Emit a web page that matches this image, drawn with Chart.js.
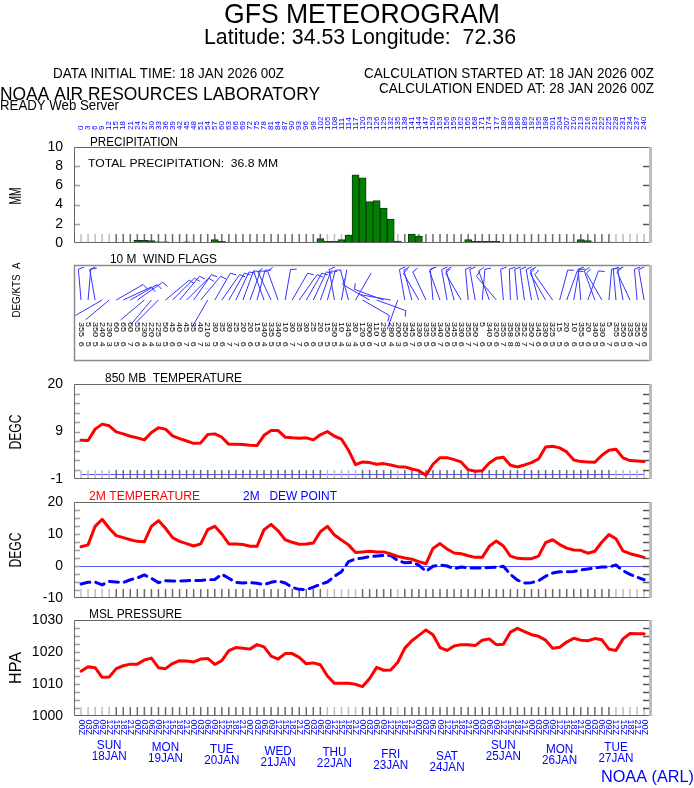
<!DOCTYPE html>
<html>
<head>
<meta charset="utf-8">
<title>GFS Meteorogram</title>
<script src="https://cdn.jsdelivr.net/npm/chart.js@4.4.1/dist/chart.umd.min.js"></script>
<style>
  html, body { margin: 0; padding: 0; background: #fff; }
  #page { position: relative; width: 694px; height: 788px; overflow: hidden; }
  #page canvas { position: absolute; left: 0; top: 0; }
</style>
</head>
<body>
<div id="page">
  <canvas id="precip" width="694" height="788"></canvas>
  <canvas id="wind" width="694" height="788"></canvas>
  <canvas id="t850" width="694" height="788"></canvas>
  <canvas id="t2m" width="694" height="788"></canvas>
  <canvas id="msl" width="694" height="788"></canvas>
</div>
<script>
// forecast hours (every 3 h from 18 JAN 2026 00Z)
const hours = [0,3,6,9,12,15,18,21,24,27, 30,33,36,39,42,45,48,51,54,57,
  60,63,66,69,72,75,78,81,84,87, 90,93,96,99,102,105,108,111,114,117,
  120,123,126,129,132,135,138,141,144,147, 150,153,156,159,162,165,168,171,174,177,
  180,183,186,189,192,195,198,201,204,207, 210,213,216,219,222,225,228,231,234,237, 240];

// 3-hourly precipitation (mm)
const precipMM = [0,0,0,0.05,0.05,0,0,0.03,0.28,0.28,
  0.25,0.12,0.12,0,0,0.12,0,0,0,0.35,
  0.17,0.1,0,0,0,0,0,0,0,0,
  0,0,0,0,0.45,0.17,0.17,0.35,0.83,7.1,
  6.8,4.31,4.41,3.65,2.5,0.2,0,0.94,0.73,0,
  0,0,0,0,0.1,0.35,0.17,0.17,0.17,0.17,
  0,0,0,0,0,0,0,0.07,0,0.1,
  0.1,0.35,0.25,0.1,0.1,0.1,0,0,0,0,
  0];

// 10 m wind: direction (deg) and speed (kts)
const windDir = [355,5,350,240,230,60,65,60,55,230,
  220,225,50,45,40,45,35,40,210,30,
  35,30,25,20,20,15,340,335,340,10,
  30,35,30,25,20,15,350,10,345,30,
  120,300,110,290,280,200,350,345,330,335,
  355,340,350,345,330,355,350,5,340,320,
  355,358,355,352,350,345,330,325,15,20,
  10,355,20,340,330,5,355,350,335,355,
  350];
const windKts = [6,5,5,4,3,5,6,7,6,4,
  4,3,5,6,6,7,6,7,3,5,
  6,7,7,6,6,5,4,5,5,6,
  7,7,6,6,5,5,5,4,3,4,
  5,6,7,5,4,3,6,7,6,5,
  6,7,6,5,6,7,7,6,5,6,
  7,8,8,7,7,6,6,5,5,6,
  6,5,6,5,6,7,6,5,6,7,
  6];

// 850 mb temperature (C)
const temp850 = [7.17,7.1,9.5,10.55,10.2,8.93,8.5,8.0,7.66,7.24,
  8.8,9.77,9.5,8.08,7.5,7.0,6.5,6.6,8.37,8.5,
  7.8,6.3,6.3,6.25,6.1,6.04,8.2,9.2,9.2,7.8,
  7.66,7.6,7.66,7.24,8.3,9.0,8.0,7.4,5.06,2.03,
  2.6,2.45,2.1,2.24,1.96,1.6,1.54,1.1,0.76,-0.23,
  2.1,3.5,3.5,3.08,2.6,0.97,0.62,0.76,2.38,3.37,
  3.58,1.89,1.54,1.96,2.45,3.23,5.76,5.9,5.55,4.7,
  3.0,2.66,2.6,2.52,4.0,5.06,5.27,3.44,2.87,2.8,
  2.66];

// 2 m temperature and dew point (C)
const temp2m = [6.0,6.6,12.4,14.6,11.8,9.5,8.85,8.2,7.7,7.6,
  12.4,14.2,11.8,8.85,7.7,7.0,6.25,6.9,11.35,12.4,
  10.0,6.9,6.9,6.7,6.15,6.15,11.35,13.0,11.0,8.2,
  7.4,6.8,6.9,7.2,10.7,12.4,9.7,8.1,6.6,4.2,
  4.4,4.6,4.4,4.4,3.75,3.0,2.5,2.1,1.35,0.7,
  5.5,7.0,5.3,4.05,3.85,3.2,2.7,2.7,6.15,7.8,
  6.25,3.1,2.4,2.3,2.3,3.1,7.3,8.2,6.7,5.6,
  5.0,4.9,4.0,4.6,7.5,9.8,8.5,4.7,3.85,3.3,
  2.7];
const dew2m = [-5.6,-5.1,-5.0,-5.9,-4.8,-5.0,-5.2,-4.3,-3.75,-2.8,
  -3.85,-5.2,-4.6,-4.7,-4.7,-4.6,-4.5,-4.5,-4.3,-4.2,
  -2.6,-3.85,-5.1,-5.3,-5.2,-5.4,-5.8,-5.1,-4.7,-5.3,
  -6.7,-7.3,-7.4,-6.6,-5.7,-5.0,-3.2,-1.8,1.35,2.2,
  2.5,2.9,3.1,3.3,3.3,1.7,1.0,1.15,0.3,-1.7,
  -0.1,0.3,0,-0.85,-0.3,-0.6,-0.6,-0.6,-0.5,-0.4,
  -0.1,-2.6,-4.4,-5.3,-5.2,-4.6,-3.2,-2.2,-1.8,-1.8,
  -1.7,-1.25,-0.95,-0.6,-0.3,-0.3,0.3,-1.45,-2.6,-3.5,
  -4.3];

// mean sea level pressure (hPa)
const mslp = [1014.0,1015.4,1015.1,1012.1,1012.2,1014.8,1015.7,1016.2,1016.2,1017.5,
  1018.1,1015.1,1014.8,1016.4,1017.3,1017.2,1016.9,1017.8,1018.0,1016.1,
  1017.3,1020.4,1021.4,1021.2,1020.9,1022.3,1021.6,1018.7,1017.8,1019.5,
  1019.5,1018.3,1016.3,1016.6,1016.0,1012.5,1010.2,1010.2,1010.2,1009.9,
  1009.2,1011.7,1015.2,1014.3,1014.4,1016.8,1021.2,1023.5,1025.2,1026.9,
  1025.4,1021.4,1020.5,1021.9,1022.3,1022.3,1022.0,1023.7,1024.1,1022.3,
  1022.4,1026.2,1027.4,1026.4,1025.4,1024.9,1023.7,1021.2,1021.5,1023.1,
  1024.3,1023.7,1023.5,1024.2,1023.8,1020.9,1020.5,1024.1,1025.8,1025.7,
  1025.7];

// axis labels
const utcCycle = ['00Z','03Z','06Z','09Z','12Z','15Z','18Z','21Z'];
const dayNames = ['SUN','MON','TUE','WED','THU','FRI','SAT','SUN','MON','TUE'];
const dayDates = ['18JAN','19JAN','20JAN','21JAN','22JAN','23JAN','24JAN','25JAN','26JAN','27JAN'];
const dayNoon = [12,36,60,84,108,132,156,180,204,228];
const t850TickText = ['-1','','','','','9','','','','','20'];
const lightHours = [0,3,6,9,12,105,108,111,114,117,135,228,231,234,237,240];

const FONT = '"Liberation Sans", Arial, Helvetica, sans-serif';
Chart.defaults.font.family = FONT;
Chart.defaults.color = '#000';

const PLOT_RIGHT = 650;
const X_MIN = -3, X_MAX = 242.5;
const BLUE = '#0000ff';

function xy(vals) {
  return hours.map((h, i) => ({ x: h, y: vals[i] === 0 && vals === precipMM ? null : vals[i] }));
}

function fitText(ctx, s, x, y, o) {
  ctx.save();
  ctx.font = o.size + 'px ' + FONT;
  ctx.fillStyle = o.color || '#000';
  ctx.textAlign = o.align || 'left';
  ctx.textBaseline = 'alphabetic';
  ctx.translate(x, y);
  let sx = o.sx || 1;
  if (o.width) sx = o.width / ctx.measureText(s).width;
  ctx.scale(sx, 1);
  ctx.fillText(s, 0, 0);
  ctx.restore();
}

function rotText(ctx, s, x, y, o) {
  ctx.save();
  ctx.font = o.size + 'px ' + FONT;
  ctx.fillStyle = o.color || '#000';
  ctx.textAlign = o.align || 'left';
  ctx.textBaseline = 'middle';
  ctx.translate(x, y);
  ctx.rotate(o.angle);
  let sx = 1;
  if (o.len) sx = o.len / ctx.measureText(s).width;
  ctx.scale(sx, o.squeeze || 1);
  ctx.fillText(s, 0, 0);
  ctx.restore();
}

function yAxis(min, max, step, label) {
  return {
    min, max, position: 'left',
    afterFit(s) { s.width = 74; },
    border: { display: false },
    grid: { drawOnChartArea: false, drawTicks: false },
    ticks: { stepSize: step, autoSkip: false, padding: 11, color: '#000',
      font: { size: 14 }, callback: label }
  };
}

function decor(opt) {
  return {
    id: 'decor',
    beforeDatasetsDraw(chart) {
      const { ctx, chartArea: a, scales: { x, y } } = chart;
      ctx.save();
      if (opt.zero) {
        const py = Math.round(y.getPixelForValue(0)) + 0.5;
        const x0 = opt.zero === 'full' ? a.left : x.getPixelForValue(hours[0]);
        const x1 = opt.zero === 'full' ? a.right : x.getPixelForValue(hours[hours.length - 1]);
        ctx.strokeStyle = '#5757ff';
        ctx.lineWidth = 1;
        ctx.beginPath(); ctx.moveTo(x0, py); ctx.lineTo(x1, py); ctx.stroke();
      }
      if (opt.hourTicks) {
        ctx.lineWidth = 1.5;
        hours.forEach(h => {
          const px = x.getPixelForValue(h);
          ctx.strokeStyle = lightHours.includes(h) ? '#bdbdbd' : '#6a6a6a';
          ctx.beginPath(); ctx.moveTo(px, a.bottom); ctx.lineTo(px, a.bottom - 9); ctx.stroke();
        });
      }
      ctx.restore();
    },
    afterDraw(chart) {
      const { ctx, chartArea: a, scales: { y } } = chart;
      ctx.save();
      if (opt.yTicks) {
        ctx.lineWidth = 1.5;
        y.ticks.slice(1, -1).forEach(t => {
          const py = Math.round(y.getPixelForValue(t.value)) + 0.5;
          ctx.strokeStyle = '#a0a0a0';
          ctx.beginPath(); ctx.moveTo(a.left, py); ctx.lineTo(a.left + 6, py); ctx.stroke();
          ctx.strokeStyle = '#555';
          ctx.beginPath(); ctx.moveTo(a.right - 7, py); ctx.lineTo(a.right - 1, py); ctx.stroke();
        });
      }
      ctx.strokeStyle = opt.frame || '#666';
      ctx.lineWidth = opt.frameWidth || 1;
      ctx.beginPath();
      ctx.moveTo(a.right, a.top + 0.5); ctx.lineTo(a.left + 0.5, a.top + 0.5);
      ctx.lineTo(a.left + 0.5, a.bottom - 0.5); ctx.lineTo(a.right, a.bottom - 0.5);
      ctx.stroke();
      ctx.fillStyle = '#bdbdbd';
      ctx.fillRect(a.right - 1, a.top, 3, a.height);
      (opt.texts || []).forEach(t => fitText(ctx, t[0], t[1], t[2], { size: t[3], width: t[4], color: t[5] }));
      if (opt.yTitle) {
        const yt = opt.yTitle;
        rotText(ctx, yt[0], 17, yt[1], { size: yt[2], len: yt[3], angle: -Math.PI / 2, align: 'center' });
      }
      if (opt.extra) opt.extra(chart);
      ctx.restore();
    }
  };
}

function panel(id, type, top, bottom, datasets, y, deco) {
  return new Chart(document.getElementById(id), {
    type,
    data: { datasets },
    options: {
      responsive: false, animation: false, events: [],
      layout: { padding: { left: y.display === false ? 74 : 0, right: 694 - PLOT_RIGHT, top, bottom: 788 - bottom } },
      plugins: { legend: { display: false }, tooltip: { enabled: false } },
      elements: { point: { radius: 0 }, line: { tension: 0, borderJoinStyle: 'round', borderCapStyle: 'round' } },
      scales: {
        x: { type: 'linear', min: X_MIN, max: X_MAX, display: false, offset: false, grid: { offset: false } },
        y
      }
    },
    plugins: [deco]
  });
}

const totalPrecip = precipMM.reduce((s, v) => s + v, 0);

// header texts and top hour labels
function headerExtra(chart) {
  const { ctx, scales: { x } } = chart;
  fitText(ctx, 'GFS METEOROGRAM', 224, 23, { size: 28, width: 276 });
  fitText(ctx, 'Latitude: 34.53 Longitude:  72.36', 204, 44, { size: 22, width: 312 });
  fitText(ctx, 'DATA INITIAL TIME: 18 JAN 2026 00Z', 53, 78, { size: 15, width: 231 });
  fitText(ctx, 'CALCULATION STARTED AT: 18 JAN 2026 00Z', 364, 78, { size: 15, width: 290 });
  fitText(ctx, 'CALCULATION ENDED AT: 28 JAN 2026 00Z', 379, 93, { size: 15, width: 275 });
  fitText(ctx, 'NOAA AIR RESOURCES LABORATORY', 0, 100, { size: 19, width: 320 });
  fitText(ctx, 'READY Web Server', 0, 110, { size: 15, width: 119 });
  hours.forEach(h => {
    rotText(ctx, String(h), x.getPixelForValue(h), 130, { size: 8, angle: -Math.PI / 2, color: BLUE });
  });
}

function windExtra(chart) {
  const { ctx, scales: { x, y } } = chart;
  const baseY = y.getPixelForValue(0.635);
  const L = 31;
  ctx.save();
  ctx.strokeStyle = '#3333ff';
  ctx.lineWidth = 1;
  hours.forEach((h, i) => {
    const px = x.getPixelForValue(h);
    const th = windDir[i] * Math.PI / 180;
    const ux = Math.sin(th), uy = -Math.cos(th);
    const nx = -uy, ny = ux;
    ctx.beginPath();
    ctx.moveTo(px, baseY);
    ctx.lineTo(px + ux * L, baseY + uy * L);
    let s = windKts[i], d = L;
    const barb = (len) => {
      const bx = px + ux * d, by = baseY + uy * d;
      ctx.moveTo(bx, by);
      ctx.lineTo(bx + nx * len + ux * 1.5, by + ny * len + uy * 1.5);
      d -= 4;
    };
    while (s >= 10) { barb(10); s -= 10; }
    if (s >= 5) barb(6);
    ctx.stroke();
  });
  ctx.restore();
  const yDir = y.getPixelForValue(0.406), ySpd = y.getPixelForValue(0.2);
  hours.forEach((h, i) => {
    const px = x.getPixelForValue(h);
    rotText(ctx, String(windDir[i]), px, yDir, { size: 9, angle: Math.PI / 2, squeeze: 0.9 });
    rotText(ctx, String(windKts[i]), px, ySpd, { size: 9, angle: Math.PI / 2, squeeze: 0.9 });
  });
}

const dayBase = [749, 751, 753, 755, 756, 758, 760, 749, 753, 751];
function bottomExtra(chart) {
  const { ctx, scales: { x } } = chart;
  hours.forEach((h, i) => {
    rotText(ctx, utcCycle[i % 8], x.getPixelForValue(h), 719.5, { size: 9, angle: Math.PI / 2, color: BLUE });
  });
  dayNoon.forEach((h, d) => {
    const cx = x.getPixelForValue(h);
    fitText(ctx, dayNames[d], cx, dayBase[d], { size: 13, sx: 0.9, color: BLUE, align: 'center' });
    fitText(ctx, dayDates[d], cx, dayBase[d] + 11, { size: 13, sx: 0.9, color: BLUE, align: 'center' });
  });
  fitText(ctx, 'NOAA (ARL)', 601, 782, { size: 16, width: 93, color: BLUE });
}

// precipitation panel
panel('precip', 'bar', 147, 243, [{
  data: xy(precipMM),
  backgroundColor: '#008000', borderColor: '#0a3a0a', borderWidth: 1,
  barPercentage: 1, categoryPercentage: 1
}], yAxis(0, 10, 2, v => v), decor({
  hourTicks: true, yTicks: true,
  texts: [['PRECIPITATION', 90, 146, 12, 88],
          ['TOTAL PRECIPITATION:  ' + totalPrecip.toFixed(1) + ' MM', 88, 167, 11, 190]],
  yTitle: ['MM', 196, 16, 17],
  extra: headerExtra
}));

// wind flags panel
panel('wind', 'scatter', 265, 361, [], { min: 0, max: 1, display: false }, decor({
  frame: '#8a8a8a', frameWidth: 1.5,
  texts: [['10 M  WIND FLAGS', 110, 263, 12, 107]],
  yTitle: ['DEG/KTS  A', 290, 11, 55],
  extra: windExtra
}));

// 850 mb temperature
panel('t850', 'line', 384, 479, [{
  data: xy(temp850), borderColor: '#ff0000', borderWidth: 3, fill: false
}], yAxis(-1, 19, 2, (v, i) => t850TickText[i]), decor({
  hourTicks: true, yTicks: true, zero: 'data',
  texts: [['850 MB  TEMPERATURE', 105, 382, 12, 137]],
  yTitle: ['DEGC', 432, 16, 35]
}));

// 2 m temperature and dew point
panel('t2m', 'line', 502, 598, [
  { data: xy(temp2m), borderColor: '#ff0000', borderWidth: 3, fill: false },
  { data: xy(dew2m), borderColor: '#0000ff', borderWidth: 3, borderDash: [9, 6], fill: false }
], yAxis(-10, 20, 2.5, v => (v % 10 === 0 ? v : '')), decor({
  hourTicks: true, yTicks: true, zero: 'full',
  texts: [['2M TEMPERATURE', 89, 500, 12, 111, '#ff0000'],
          ['2M   DEW POINT', 243, 500, 12, 94, BLUE]],
  yTitle: ['DEGC', 550, 16, 35]
}));

// mean sea level pressure
panel('msl', 'line', 620, 716, [{
  data: xy(mslp), borderColor: '#ff0000', borderWidth: 3, fill: false
}], yAxis(1000, 1030, 2.5, v => (v % 10 === 0 ? v : '')), decor({
  hourTicks: true, yTicks: true,
  texts: [['MSL PRESSURE', 89, 618, 12, 93]],
  yTitle: ['HPA', 668, 16, 32],
  extra: bottomExtra
}));
</script>
</body>
</html>
